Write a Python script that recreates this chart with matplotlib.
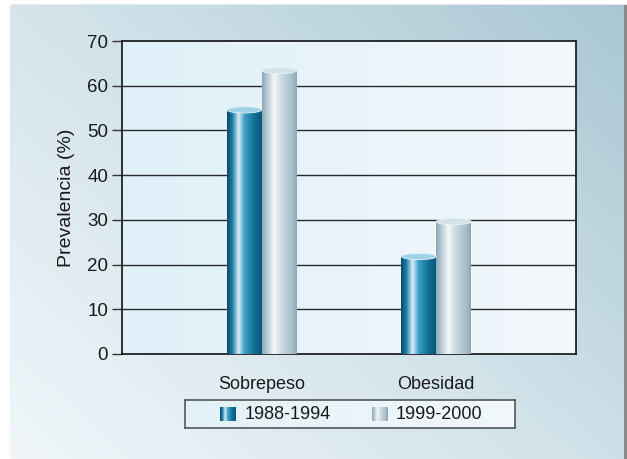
import numpy as np
import matplotlib
matplotlib.use("Agg")
import matplotlib.pyplot as plt
from matplotlib.colors import LinearSegmentedColormap
from matplotlib.patches import Ellipse, Rectangle

categories = ["Sobrepeso", "Obesidad"]
series_names = ["1988-1994", "1999-2000"]
vals_1988 = [54.6, 21.8]
vals_1999 = [63.4, 29.6]
yticks = [0, 10, 20, 30, 40, 50, 60, 70]

plt.rcParams['font.family'] = ['Liberation Sans', 'DejaVu Sans']
FS = 13

W, H = 627, 459
fig = plt.figure(figsize=(W / 100, H / 100), dpi=100)
fig.patch.set_facecolor('white')

# background panel with diagonal gradient
bg = fig.add_axes([0, 0, 1, 1], zorder=0)
bg.set_xlim(0, W); bg.set_ylim(H, 0); bg.axis('off')
yy, xx = np.mgrid[0:1:200j, 0:1:200j]
t = 0.55 * xx + 0.45 * (1 - yy)
bg_cmap = LinearSegmentedColormap.from_list('bg', ['#f0f6fa', '#d2e3ea', '#a9c7d3'])
bg.add_patch(Rectangle((12, 5), W - 12, H, color='#8a8a8a', zorder=0))
bg.imshow(t, cmap=bg_cmap, extent=[10, 624, H, 5], aspect='auto', origin='upper', zorder=1)
bg.set_xlim(0, W); bg.set_ylim(H, 0)

# main axes
L, R, T, B = 122, 576, 41, 354
ax = fig.add_axes([L / W, 1 - B / H, (R - L) / W, (B - T) / H], zorder=2)
pa = np.mgrid[0:1:100j, 0:1:100j][1]
pa_cmap = LinearSegmentedColormap.from_list('pa', ['#dff0f8', '#f3f8fc'])
ax.imshow(pa, cmap=pa_cmap, extent=[-0.8, 1.8, 0, 70], aspect='auto', zorder=0)

for y in yticks[1:-1]:
    ax.axhline(y, color='#2a2a2a', lw=1.0, zorder=1)

blue_cmap = LinearSegmentedColormap.from_list(
    'blue', [(0, '#0a4a66'), (0.15, '#1c7ea6'), (0.33, '#d6eef7'), (0.5, '#3fa0c6'),
             (0.8, '#0f6d93'), (1, '#0b5677')])
gray_cmap = LinearSegmentedColormap.from_list(
    'gray', [(0, '#8ea8b6'), (0.15, '#b6cad4'), (0.35, '#f4f8fa'), (0.55, '#ccdbe2'),
             (0.85, '#a9bfca'), (1, '#8ea6b3')])
grad = np.linspace(0, 1, 200)[None, :]

bw = 0.2
xpos = np.arange(len(categories))
ell_h = 1.4
for vals, cmap, topc, off in [(vals_1988, blue_cmap, '#9fd3e8', -bw / 2),
                              (vals_1999, gray_cmap, '#d3e2e9', bw / 2)]:
    for x, v in zip(xpos, vals):
        x0, x1 = x + off - bw / 2, x + off + bw / 2
        ax.imshow(grad, cmap=cmap, extent=[x0, x1, 0, v], aspect='auto', zorder=3)
        ax.add_patch(Ellipse((x + off, v), bw, ell_h, facecolor=topc,
                             edgecolor='#e8f3f8', lw=0.6, zorder=4))

ax.set_xlim(-0.8, 1.8)
ax.set_ylim(0, 70)
ax.set_yticks(yticks)
ax.set_yticklabels([str(v) for v in yticks], fontsize=FS + 0.5, color='#1a1a1a')
ax.set_xticks(xpos)
ax.set_xticklabels(categories, fontsize=FS, color='#1a1a1a')
ax.tick_params(axis='x', length=0, pad=16)
ax.tick_params(axis='y', length=7, width=1, color='#333333', pad=3)
ax.set_ylabel('Prevalencia (%)', fontsize=FS + 1, color='#1a1a1a', labelpad=9)
for s in ax.spines.values():
    s.set_color('#111111'); s.set_linewidth(1.2)

# legend
lx0, lx1, ly0, ly1 = 185, 515, 400, 428
lg = fig.add_axes([lx0 / W, 1 - ly1 / H, (lx1 - lx0) / W, (ly1 - ly0) / H], zorder=3)
lg.set_xticks([]); lg.set_yticks([])
lg.imshow(np.linspace(0, 1, 100)[None, :], cmap=LinearSegmentedColormap.from_list('lb', ['#e2f1f8', '#f2f8fb']),
          extent=[lx0, lx1, ly1, ly0], aspect='auto')
for s in lg.spines.values():
    s.set_color('#555555'); s.set_linewidth(1.2)
lg.imshow(grad, cmap=blue_cmap, extent=[220, 236, 421, 407], aspect='auto', zorder=2)
lg.text(245, 414.5, series_names[0], fontsize=FS, va='center', ha='left', color='#1a1a1a')
lg.imshow(grad, cmap=gray_cmap, extent=[372, 388, 421, 407], aspect='auto', zorder=2)
lg.text(396, 414.5, series_names[1], fontsize=FS, va='center', ha='left', color='#1a1a1a')
lg.set_xlim(lx0, lx1); lg.set_ylim(ly1, ly0)

fig.savefig('out.png', dpi=100, facecolor=fig.get_facecolor())
